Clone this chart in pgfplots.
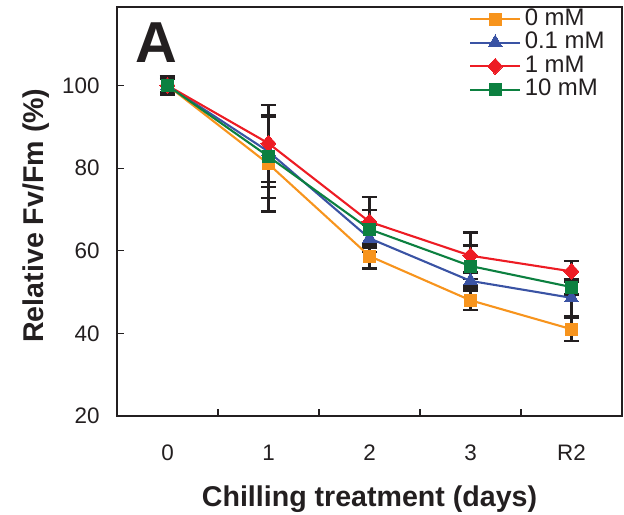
\documentclass[border=0pt]{standalone}
\usepackage{fontspec}
\setmainfont{Liberation Sans}
\usepackage{pgfplots}
\pgfplotsset{compat=1.18}
\usepackage{pgfplotstable}
\definecolor{cOrange}{HTML}{F7941D}
\definecolor{cBlue}{HTML}{3A53A4}
\definecolor{cRed}{HTML}{ED1C24}
\definecolor{cGreen}{HTML}{0C8040}
\definecolor{axgray}{HTML}{231F20}

\pgfplotstableread{
x y e
0 100 2.2
1 81 11.5
2 58.7 3
3 48 2.3
4 41 2.8
}\tzero
\pgfplotstableread{
x y e
0 100 1.6
1 84 8.6
2 63 3.3
3 52.7 2
4 48.6 4.5
}\tone
\pgfplotstableread{
x y e
0 100 1.6
1 86 9.3
2 67 6
3 58.8 5.6
4 55 2.5
}\ttwo
\pgfplotstableread{
x y e
0 100 2.2
1 82.8 10
2 65.2 4.6
3 56.3 5
4 51.2 1.8
}\tthree

\begin{document}
\begin{tikzpicture}
\begin{axis}[name=ax, scale only axis, width=505bp, height=409bp,
  xmin=-0.5, xmax=4.5, ymin=20, ymax=119,
  xtick={0,1,2,3,4}, xticklabels={0,1,2,3,R2},
  ytick={20,40,60,80,100},
  minor xtick={0.5,1.5,2.5,3.5},
  minor ytick={20,40,60,80,100},
  major tick length=0pt, minor tick length=7bp,
  tick align=inside, xtick pos=bottom, ytick pos=left,
  minor tick style={line width=1.1bp, draw=axgray},
  axis line style={line width=1.6bp, draw=axgray},
  /pgf/number format/assume math mode=true,
  tick label style={font=\fontsize{22.5}{26}\selectfont, text=axgray},
  xticklabel style={anchor=base, yshift=-45bp},
  yticklabel style={anchor=east, xshift=-14bp},
  xlabel={\textbf{Chilling treatment (days)}},
  ylabel={\textbf{Relative Fv/Fm (\%)}},
  label style={font=\fontsize{28.7}{32}\selectfont, text=axgray},
  xlabel style={at={(axis description cs:0.5,-0.2225)}, anchor=base},
  ylabel style={at={(axis description cs:-0.1446,0.49)}, anchor=base},
  legend style={at={(rel axis cs:0.697,0.999)}, anchor=north west, draw=none, fill=none, inner sep=0pt,
    font=\fontsize{24}{28}\selectfont, text=axgray,
    nodes={text height=16bp, text depth=4bp, inner ysep=1.75bp, inner xsep=3.5bp}},
  legend cell align=left,
  legend image code/.code={\draw[mark repeat=2,mark phase=2] plot coordinates {(0bp,0bp)(25bp,0bp)(50bp,0bp)};},
  clip=false,
]
% error bars (behind)
\pgfplotsset{ebar/.style={draw=none, mark=none, forget plot,
  error bars/.cd, y dir=both, y explicit,
  error bar style={line width=2.4bp, draw=axgray},
  error mark options={rotate=90, mark size=7.5bp, line width=2.4bp, draw=axgray}}}
\addplot[ebar] table[x=x,y=y,y error=e]{\tzero};
\addplot[ebar] table[x=x,y=y,y error=e]{\tone};
\addplot[ebar] table[x=x,y=y,y error=e]{\ttwo};
\addplot[ebar] table[x=x,y=y,y error=e]{\tthree};
% series
\addplot[cOrange, line width=2.1bp, mark=square*, mark size=6bp, mark options={solid, fill=cOrange, draw=cOrange, line width=0pt}] table[x=x,y=y]{\tzero};
\addlegendentry{0 mM}
\addplot[cBlue, line width=2.1bp, mark=triangle*, mark size=8bp, mark options={solid, fill=cBlue, draw=cBlue, line width=0pt}] table[x=x,y=y]{\tone};
\addlegendentry{0.1 mM}
\addplot[cRed, line width=2.1bp, mark=diamond*, mark size=8bp, mark options={solid, fill=cRed, draw=cRed, line width=0pt, xscale=1.25}] table[x=x,y=y]{\ttwo};
\addlegendentry{1 mM}
\addplot[cGreen, line width=2.1bp, mark=square*, mark size=6bp, mark options={solid, fill=cGreen, draw=cGreen, line width=0pt}] table[x=x,y=y]{\tthree};
\addlegendentry{10 mM}
\node[anchor=base west, inner sep=0pt, font=\fontsize{58}{60}\selectfont\bfseries, text=axgray] at (axis description cs:0.0356,0.8655) {A};
\end{axis}
\pgfresetboundingbox
\path ([shift={(-117bp,-99bp)}]ax.south west) rectangle ([shift={(2bp,7bp)}]ax.north east);
\end{tikzpicture}
\end{document}
